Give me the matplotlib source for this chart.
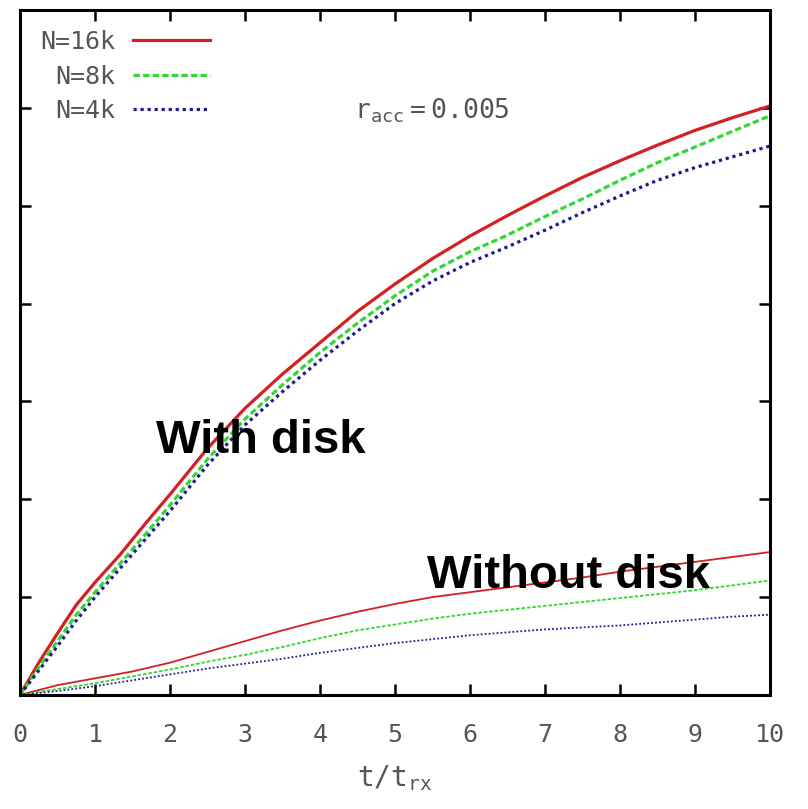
import matplotlib
matplotlib.use("Agg")
import matplotlib.pyplot as plt
import numpy as np

# czas w jednostkach t_rx
t = [0, 0.25, 0.5, 0.75, 1.0, 1.33, 1.67, 2.0, 2.5, 3.0, 3.5, 4.0, 4.5,
     5.0, 5.5, 6.0, 6.5, 7.0, 7.5, 8.0, 8.5, 9.0, 9.5, 10.0]

# z dyskiem
disk_16k = [0, 0.33, 0.63, 0.92, 1.15, 1.43, 1.75, 2.05, 2.52, 2.93, 3.28, 3.6, 3.92,
            4.2, 4.46, 4.69, 4.9, 5.1, 5.29, 5.46, 5.62, 5.77, 5.9, 6.02]
disk_8k = [0, 0.28, 0.55, 0.82, 1.05, 1.34, 1.64, 1.94, 2.41, 2.82, 3.17, 3.5, 3.8,
           4.08, 4.33, 4.53, 4.7, 4.89, 5.07, 5.26, 5.44, 5.6, 5.76, 5.92]
disk_4k = [0, 0.25, 0.5, 0.76, 1.0, 1.29, 1.59, 1.88, 2.35, 2.76, 3.1, 3.42, 3.72,
           4.0, 4.23, 4.42, 4.58, 4.75, 4.93, 5.1, 5.26, 5.39, 5.5, 5.61]

# bez dysku
t2 = [0, 0.5, 1.0, 1.5, 2.0, 2.5, 3.0, 3.5, 4.0, 4.5, 5.0, 5.5, 6.0, 6.5, 7.0,
      7.5, 8.0, 8.5, 9.0, 9.5, 10.0]
nodisk_16k = [0, 0.1, 0.17, 0.24, 0.33, 0.44, 0.55, 0.66, 0.76, 0.85, 0.93, 1.0,
              1.05, 1.1, 1.15, 1.2, 1.26, 1.31, 1.36, 1.41, 1.46]
nodisk_8k = [0, 0.06, 0.12, 0.19, 0.26, 0.34, 0.41, 0.49, 0.58, 0.66, 0.72, 0.78,
             0.83, 0.87, 0.91, 0.95, 0.99, 1.03, 1.07, 1.12, 1.17]
nodisk_4k = [0, 0.04, 0.09, 0.15, 0.21, 0.27, 0.32, 0.37, 0.43, 0.48, 0.53, 0.57,
             0.61, 0.64, 0.67, 0.69, 0.71, 0.74, 0.77, 0.8, 0.82]

labels = ['N=16k', 'N=8k', 'N=4k']
colors = ['#d42020', '#33d633', '#1c1c90']
styles = ['-', (0, (2, 1)), (0, (1, 1.2))]

mono = 'DejaVu Sans Mono'
gray = '#555555'

fig = plt.figure(figsize=(8.08, 8.09), dpi=100)
ax = fig.add_axes([0.0248, 0.141, 0.928, 0.8465])

for y, c, ls, lab in zip([disk_16k, disk_8k, disk_4k], colors, styles, labels):
    ax.plot(t, y, color=c, linestyle=ls, linewidth=2.3, label=lab)
for y, c, ls in zip([nodisk_16k, nodisk_8k, nodisk_4k], colors, styles):
    ax.plot(t2, y, color=c, linestyle=ls, linewidth=1.3)

ax.set_xlim(0, 10)
ax.set_ylim(0, 7)
ax.set_xticks(np.arange(0, 11, 1))
ax.set_yticks(np.arange(0, 8, 1))
ax.set_yticklabels([])
ax.tick_params(direction='in', top=True, right=True, length=8, width=1.8,
               pad=20, labelsize=18, labelcolor=gray)
for lab in ax.get_xticklabels():
    lab.set_family(mono)
for s in ax.spines.values():
    s.set_linewidth(2.2)

ax.set_xlabel(r'$\mathtt{t/t_{rx}}$', fontsize=20, color=gray, labelpad=12)

leg = ax.legend(loc='upper left', bbox_to_anchor=(0.0, 1.0), frameon=False,
                markerfirst=False, handlelength=3.1, handletextpad=0.7,
                labelspacing=0.42, borderaxespad=0.4,
                prop={'family': mono, 'size': 18})
for txt in leg.get_texts():
    txt.set_color(gray)

ax.text(4.45, 5.97, r'$\mathtt{r_{acc}{=}0.005}$', fontsize=19, color=gray,
        ha='left', va='center')

ax.text(3.21, 2.60, 'With disk', fontsize=34, fontweight='bold',
        family='Liberation Sans', ha='center', va='center')
ax.text(7.31, 1.22, 'Without disk', fontsize=34, fontweight='bold',
        family='Liberation Sans', ha='center', va='center')

fig.savefig('out.png', dpi=100)
